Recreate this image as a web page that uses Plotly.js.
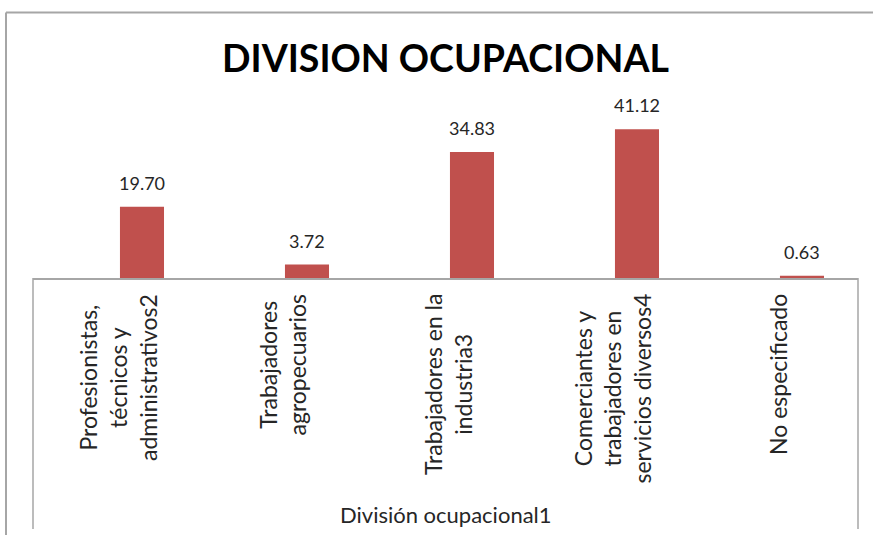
<!DOCTYPE html>
<html>
<head>
<meta charset="utf-8">
<script src="https://cdn.plot.ly/plotly-3.0.1.min.js"></script>
<style>html,body{margin:0;padding:0;background:#fff;}#chart{width:873px;height:535px;}</style>
</head>
<body>
<div id="chart"></div>
<script>
// Data
var categories = [
  "Profesionistas,<br>técnicos y<br>administrativos2",
  "Trabajadores<br>agropecuarios",
  "Trabajadores en la<br>industria3",
  "Comerciantes y<br>trabajadores en<br>servicios diversos4",
  "No especificado"
];
var values = [19.70, 3.72, 34.83, 41.12, 0.63];
var valueLabels = ["19.70", "3.72", "34.83", "41.12", "0.63"];
var chartTitle = "DIVISION OCUPACIONAL";
var axisTitle = "División ocupacional1";

var FONT = "Lato, 'Carlito', Calibri, sans-serif";
var W = 873, H = 535;
var L = 33, R = 15, T = 97, B = 257;
var plotW = W - L - R, plotH = H - T - B;
function px2paperX(px) { return (px - L) / plotW; }
function px2paperY(py) { return (H - B - py) / plotH; }

var trace = {
  type: "bar",
  x: categories,
  y: values,
  width: 0.267,
  offset: 0.027,
  marker: { color: "#C0504D", line: { width: 0 } },
  hoverinfo: "x+y"
};

var annotations = [];
for (var i = 0; i < categories.length; i++) {
  annotations.push({
    x: categories[i], y: values[i], xref: "x", yref: "y",
    text: valueLabels[i], showarrow: false,
    xanchor: "center", yanchor: "bottom",
    xshift: 26.5, yshift: 11,
    font: { family: FONT, size: 18, color: "#262626" }
  });
  annotations.push({
    x: categories[i], y: 0, xref: "x", yref: "paper",
    text: categories[i], showarrow: false, textangle: -90,
    align: "center", xanchor: "center", yanchor: "top",
    xshift: 2, yshift: -14,
    font: { family: FONT, size: 23, color: "#262626" }
  });
}
annotations.push({
  x: 0.5, y: px2paperY(514), xref: "paper", yref: "paper",
  text: axisTitle, showarrow: false, xanchor: "center", yanchor: "middle",
  font: { family: FONT, size: 22, color: "#262626" }
});

var gray = "#A6A6A6";
var shapes = [
  // outer chart frame (top and left)
  { type: "line", xref: "paper", yref: "paper", x0: px2paperX(6), x1: px2paperX(880), y0: px2paperY(12.5), y1: px2paperY(12.5), line: { color: gray, width: 2 } },
  { type: "line", xref: "paper", yref: "paper", x0: px2paperX(6), x1: px2paperX(6), y0: px2paperY(12.5), y1: px2paperY(545), line: { color: gray, width: 2 } },
  // axis label box sides
  { type: "line", xref: "paper", yref: "paper", x0: 0, x1: 0, y0: 0, y1: px2paperY(529), line: { color: gray, width: 1.5 } },
  { type: "line", xref: "paper", yref: "paper", x0: 1, x1: 1, y0: 0, y1: px2paperY(529), line: { color: gray, width: 1.5 } }
];

var layout = {
  width: W, height: H,
  margin: { l: L, r: R, t: T, b: B, pad: 0 },
  paper_bgcolor: "#ffffff", plot_bgcolor: "#ffffff",
  showlegend: false,
  title: {
    text: "<b>" + chartTitle + "</b>",
    x: 0.5, xref: "paper", xanchor: "center",
    y: 1 - 59 / H, yref: "container", yanchor: "middle",
    font: { family: FONT, size: 37.5, color: "#000000" }
  },
  xaxis: {
    type: "category",
    range: [-0.5, 4.5],
    showticklabels: false, ticks: "",
    showgrid: false, zeroline: false,
    showline: true, linecolor: gray, linewidth: 1.5,
    fixedrange: true
  },
  yaxis: {
    range: [0, 50],
    visible: false, showgrid: false, zeroline: false,
    fixedrange: true
  },
  annotations: annotations,
  shapes: shapes
};

Plotly.newPlot("chart", [trace], layout, { displayModeBar: false, staticPlot: true });
</script>
</body>
</html>
